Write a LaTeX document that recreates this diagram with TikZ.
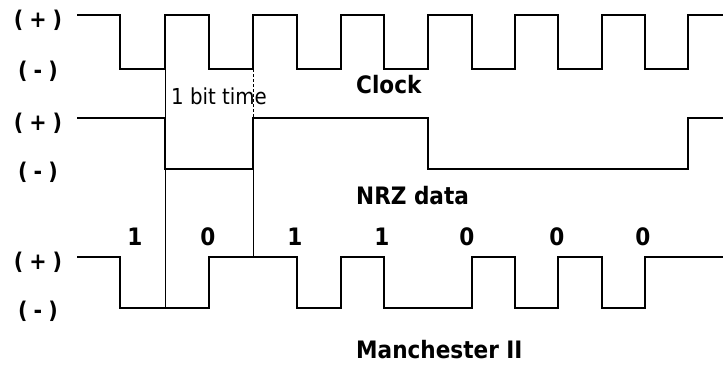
\documentclass[tikz,border=0pt]{standalone}
\usepackage{fontspec}
\setmainfont{DejaVu Sans}
\newfontfamily\lblfont{DejaVu Sans Condensed}
\tikzset{
  wave/.style={line width=1.6pt, line join=miter},
  marker/.style={line width=1pt},
  faint/.style={line width=0.6pt, densely dashed},
  lbl/.style={font=\lblfont\bfseries\fontsize{24}{24}\selectfont, inner sep=0pt},
  small/.style={font=\lblfont\fontsize{22}{22}\selectfont, inner sep=0pt},
  lvl/.style={font=\lblfont\bfseries\fontsize{23}{23}\selectfont, inner sep=0pt},
}
\newcommand{\lvtxt}[1]{(\hspace{6pt}#1\hspace{6pt})}
\begin{document}
\begin{tikzpicture}[x=1pt,y=-1pt]
\useasboundingbox (0,0) rectangle (723,365);
% level labels
\node[lvl] (cp) at (38,20) {\lvtxt{+}};
\node[lvl] (cm) at (38,71) {\lvtxt{-}};
\node[lvl] (np) at (38,123) {\lvtxt{+}};
\node[lvl] (nm) at (38,172) {\lvtxt{-}};
\node[lvl] (mp) at (38,262) {\lvtxt{+}};
\node[lvl] (mm) at (38,311) {\lvtxt{-}};
% clock
\draw[wave] (77,15) -| (120,69) -| (165,15) -| (209,69) -| (253,15) -| (297,69)
  -| (341,15) -| (384,69) -| (428,15) -| (472,69) -| (515,15) -| (558,69)
  -| (602,15) -| (645,69) -| (688,15) -- (723,15);
% NRZ
\draw[wave] (77,118) -| (165,169) -| (253,118) -| (428,169) -| (688,118) -- (723,118);
% Manchester
\draw[wave] (77,257) -| (120,308) -| (209,257) -| (297,308) -| (341,257) -| (384,308)
  -| (472,257) -| (515,308) -| (558,257) -| (602,308) -| (645,257) -- (723,257);
% bit-time markers
\coordinate (a1) at (165,69);
\coordinate (a2) at (165,308);
\coordinate (b1) at (253,69);
\coordinate (b2) at (253,118);
\coordinate (b3) at (253,169);
\coordinate (b4) at (253,257);
\draw[marker] (a1) -- (a2);
\draw[faint] (b1) -- (b2);
\draw[marker] (b3) -- (b4);
% texts
\node[small, anchor=west] (bt) at (171,96) {1 bit time};
\node[lbl, anchor=west] (clk) at (356,85) {Clock};
\node[lbl, anchor=west] (nrz) at (356,196) {NRZ data};
\node[lbl, anchor=west] (man) at (356,350) {Manchester II};
\node[lbl] (d1) at (135,237) {1};
\node[lbl] (d2) at (208,237) {0};
\node[lbl] (d3) at (295,237) {1};
\node[lbl] (d4) at (382,237) {1};
\node[lbl] (d5) at (467,237) {0};
\node[lbl] (d6) at (557,237) {0};
\node[lbl] (d7) at (643,237) {0};
\end{tikzpicture}
\end{document}
